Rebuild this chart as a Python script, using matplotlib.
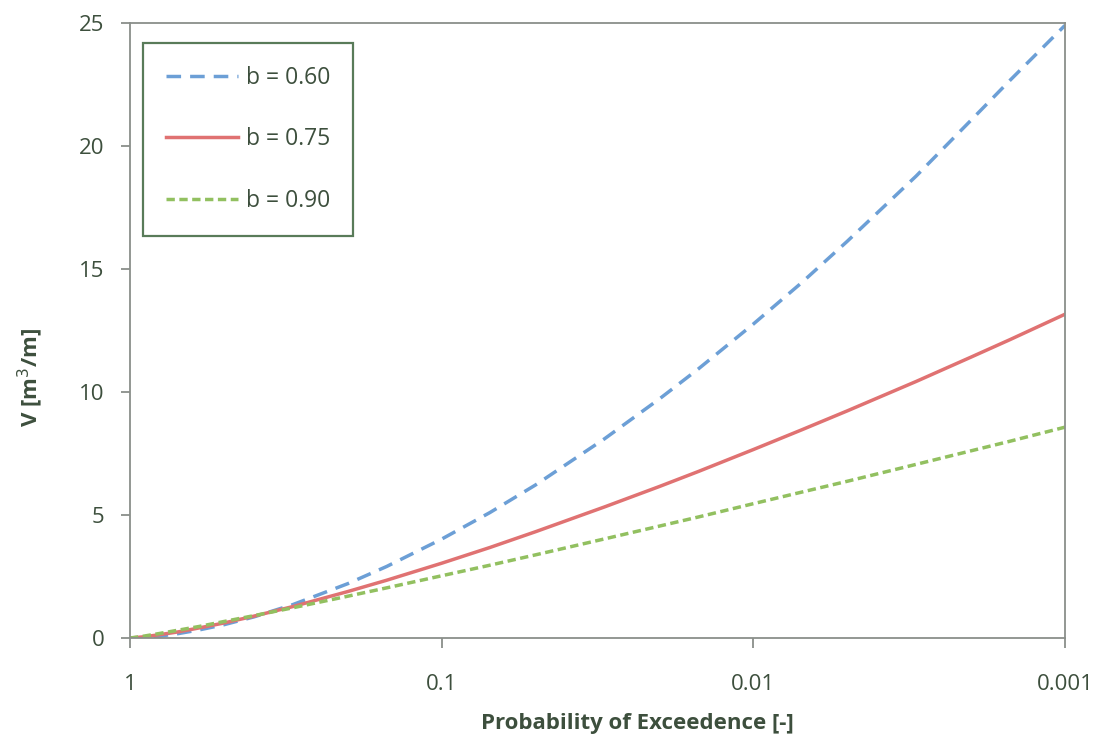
import matplotlib.pyplot as plt
from matplotlib.ticker import FixedLocator, FixedFormatter, NullLocator

plt.rcParams['font.family'] = ['Open Sans', 'DejaVu Sans']

# probability of exceedance and volume for each shape parameter b
p_exc = [1, 0.9, 0.8, 0.7, 0.6, 0.5, 0.4, 0.3, 0.2, 0.15, 0.1, 0.07, 0.05,
         0.03, 0.02, 0.015, 0.01, 0.007, 0.005, 0.003, 0.002, 0.0015, 0.001]
v_b060 = [0, 0.02, 0.08, 0.18, 0.33, 0.54, 0.86, 1.36, 2.21, 2.91, 4.02, 5.10, 6.22,
          8.10, 9.72, 10.94, 12.76, 14.44, 16.12, 18.78, 21.05, 22.67, 24.9]
v_b075 = [0, 0.05, 0.14, 0.25, 0.41, 0.61, 0.89, 1.28, 1.89, 2.35, 3.04, 3.68, 4.32,
          5.33, 6.16, 6.77, 7.66, 8.46, 9.23, 10.43, 11.42, 12.13, 13.16]
v_b090 = [0, 0.08, 0.19, 0.32, 0.47, 0.67, 0.91, 1.23, 1.70, 2.04, 2.53, 2.96, 3.38,
          4.03, 4.55, 4.92, 5.46, 5.93, 6.37, 7.06, 7.61, 8.00, 8.57]
labels = ['b = 0.60', 'b = 0.75', 'b = 0.90']

x_ticks = [1, 0.1, 0.01, 0.001]
x_tick_labels = ['1', '0.1', '0.01', '0.001']
y_ticks = [0, 5, 10, 15, 20, 25]

txt = '#3d4f3d'
spine = '#8a8f8a'

fig = plt.figure(figsize=(10.96, 7.4), dpi=100)
ax = fig.add_axes([0.1186, 0.1378, 0.853, 0.8311])

ax.plot(p_exc, v_b060, color='#6c9fd6', lw=2.5, dashes=(4.2, 2.6), label=labels[0])
ax.plot(p_exc, v_b075, color='#e07272', lw=2.5, label=labels[1])
ax.plot(p_exc, v_b090, color='#92c060', lw=2.5, dashes=(2.4, 1.3), label=labels[2])

ax.set_xscale('log')
ax.set_xlim(1, 0.001)
ax.set_ylim(0, 25)
ax.xaxis.set_major_locator(FixedLocator(x_ticks))
ax.xaxis.set_major_formatter(FixedFormatter(x_tick_labels))
ax.xaxis.set_minor_locator(NullLocator())
ax.set_yticks(y_ticks)

for s in ax.spines.values():
    s.set_color(spine)
    s.set_linewidth(1.3)
ax.tick_params(axis='x', direction='out', length=7, width=1.3, color=spine,
               labelsize=16, labelcolor=txt, pad=19)
ax.tick_params(axis='y', direction='out', length=6.5, width=1.3, color=spine,
               labelsize=16, labelcolor=txt, pad=12)

ax.set_xlabel('Probability of Exceedence [-]', fontsize=16, fontweight='bold', color=txt)
ax.set_ylabel('V [m$^3$/m]', fontsize=16, fontweight='bold', color=txt)
ax.xaxis.set_label_coords(0.543, -0.139)
ax.xaxis.label.set_verticalalignment('center')
ax.yaxis.set_label_coords(-0.107, 0.423)
ax.yaxis.label.set_verticalalignment('center')

leg = ax.legend(loc='upper left', bbox_to_anchor=(0.0139, 0.9675), fontsize=16.5,
                frameon=True, fancybox=False, handlelength=3.15, handletextpad=0.35,
                labelspacing=1.63, borderpad=1.0, borderaxespad=0)
leg.get_frame().set_edgecolor('#2f5a2f')
leg.get_frame().set_linewidth(1.6)
for t in leg.get_texts():
    t.set_color(txt)

fig.savefig('out.png', dpi=100)
